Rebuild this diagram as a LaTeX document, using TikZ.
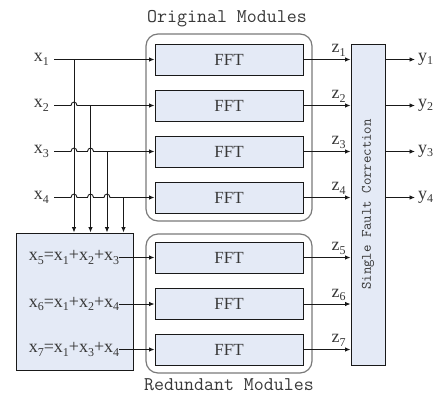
\documentclass[tikz,border=0pt]{standalone}
\usepackage{fontspec}
\setmainfont{Liberation Serif}
\newfontfamily\monof{Latin Modern Mono}
\usetikzlibrary{arrows.meta,calc}
\definecolor{boxblue}{HTML}{E4EAF6}
\definecolor{contgray}{HTML}{7A7A7A}
\definecolor{txt}{HTML}{383838}
\newcommand\sbs[1]{\raisebox{-0.4ex}{\fontsize{12}{12}\selectfont #1}}
\tikzset{
  fftbox/.style={draw=black!90, line width=1pt, fill=boxblue, minimum width=148pt, minimum height=31pt, inner sep=0pt, font=\fontsize{17}{17}\selectfont, text=txt},
  container/.style={draw=contgray, line width=1.2pt, rounded corners=12pt, inner sep=0pt},
  wire/.style={draw=black!90, line width=0.9pt},
  arr/.style={wire, -{Latex[length=5.5pt,width=4.5pt]}},
  varlbl/.style={font=\fontsize{18}{18}\selectfont, text=txt, inner sep=0pt},
  title/.style={font=\monof\fontsize{19.4}{19.4}\selectfont, text=txt, inner sep=0pt},
}
\begin{document}
\begin{tikzpicture}[x=1pt,y=-1pt]
\useasboundingbox (0,0) rectangle (441,394);
% containers
\node[container, minimum width=166pt, minimum height=187pt] (orig) at (229,127.5) {};
\node[container, minimum width=166pt, minimum height=139pt] (red) at (229,303.5) {};
\node[title] (otitle) at (227,19) {Original Modules};
\node[title] (rtitle) at (229,385) {Redundant Modules};
% FFT boxes
\node[fftbox] (f1) at (229,59.5) {FFT};
\node[fftbox] (f2) at (229,105.5) {FFT};
\node[fftbox] (f3) at (229,151.5) {FFT};
\node[fftbox] (f4) at (229,197.5) {FFT};
\node[fftbox] (f5) at (229,257.5) {FFT};
\node[fftbox] (f6) at (229,304) {FFT};
\node[fftbox] (f7) at (229,349.5) {FFT};
% encoder
\node[draw=black!90, line width=1pt, fill=boxblue, minimum width=117pt, minimum height=137pt, inner sep=0pt] (enc) at (74.5,301.5) {};
\node[varlbl] (e5) at (74,257.5) {x\sbs{5}=x\sbs{1}+x\sbs{2}+x\sbs{3}};
\node[varlbl] (e6) at (74,304) {x\sbs{6}=x\sbs{1}+x\sbs{2}+x\sbs{4}};
\node[varlbl] (e7) at (74,349.5) {x\sbs{7}=x\sbs{1}+x\sbs{3}+x\sbs{4}};
% single fault correction
\node[draw=black!90, line width=1pt, fill=boxblue, minimum width=34pt, minimum height=321pt, inner sep=0pt] (sfc) at (368,204.5) {};
\node[font=\monof\fontsize{14.4}{14.4}\selectfont, text=txt, rotate=90, inner sep=0pt] (sfct) at (sfc.center) {Single Fault Correction};
% inputs
\node[varlbl, anchor=east, inner xsep=5pt] (x1) at (54,59.5) {x\sbs{1}};
\node[varlbl, anchor=east, inner xsep=5pt] (x2) at (54,105.5) {x\sbs{2}};
\node[varlbl, anchor=east, inner xsep=5pt] (x3) at (54,151.5) {x\sbs{3}};
\node[varlbl, anchor=east, inner xsep=5pt] (x4) at (54,197.5) {x\sbs{4}};
\coordinate (v1) at (74,59.5);
\coordinate (v2) at (90.5,105.5);
\coordinate (v3) at (107,151.5);
\coordinate (v4) at (123.5,197.5);
\draw[arr] (x1.east) -- (f1.west);
\draw[arr] (x2.east) -- (71,105.5) .. controls (71,101) and (77,101) .. (77,105.5) -- (f2.west);
\draw[arr] (x3.east) -- (71,151.5) .. controls (71,147) and (77,147) .. (77,151.5)
  -- (87.5,151.5) .. controls (87.5,147) and (93.5,147) .. (93.5,151.5) -- (f3.west);
\draw[arr] (x4.east) -- (71,197.5) .. controls (71,193) and (77,193) .. (77,197.5)
  -- (87.5,197.5) .. controls (87.5,193) and (93.5,193) .. (93.5,197.5)
  -- (104,197.5) .. controls (104,193) and (110,193) .. (110,197.5) -- (f4.west);
\draw[arr] (v1) -- (v1|-enc.north);
\draw[arr] (v2) -- (v2|-enc.north);
\draw[arr] (v3) -- (v3|-enc.north);
\draw[arr] (v4) -- (v4|-enc.north);
\draw[arr] (e5.east) -- (f5.west);
\draw[arr] (e6.east) -- (f6.west);
\draw[arr] (e7.east) -- (f7.west);
% FFT to SFC
\foreach \i in {1,...,7} {
  \draw[arr] (f\i.east) -- (f\i.east-|sfc.west);
  \node[varlbl] (z\i) at ($(f\i.east)+(35,-9)$) {z\sbs{\i}};
}
% outputs
\foreach \i/\yy in {1/59.5,2/105.5,3/151.5,4/197.5} {
  \node[varlbl, anchor=west, inner xsep=3pt] (y\i) at (415,\yy) {y\sbs{\i}};
  \draw[arr] (y\i.west-|sfc.east) -- (y\i.west);
}
\end{tikzpicture}
\end{document}
